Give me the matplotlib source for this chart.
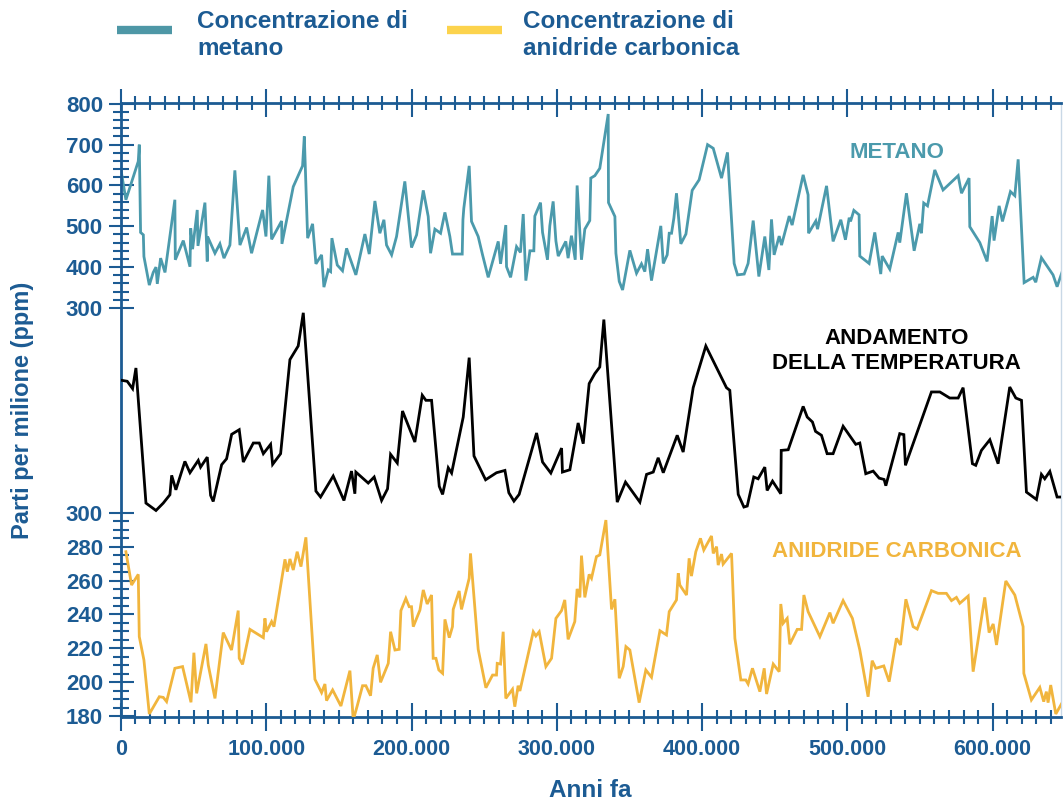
import matplotlib
matplotlib.use("Agg")
import matplotlib.pyplot as plt
from matplotlib.lines import Line2D
from matplotlib.ticker import FixedLocator, MultipleLocator

# migliaia di anni fa
ch4_years = [0, 3.4, 11.9, 12.6, 13.5, 15.4, 15.8, 19.5, 22.2, 24.1, 25.0, 27.3, 30.3, 37.1, 37.4,
             42.9, 47.5, 48.0, 49.3, 52.5, 53.0, 57.8, 59.4, 59.6, 64.7, 68.1, 70.9, 75.0, 78.4,
             81.9, 86.5, 89.9, 97.5, 99.8, 101.8, 103.7, 110.6, 110.8, 118.6, 125.0, 126.2, 128.5,
             131.9, 134.2, 138.1, 139.7, 142.7, 144.3, 145.2, 148.9, 152.5, 155.3, 161.7, 167.9,
             170.9, 174.8, 178.2, 181.0, 182.8, 186.3, 189.7, 195.4, 200.0, 203.5, 208.1, 211.5,
             213.1, 216.1, 220.0, 223.0, 226.4, 228.2, 234.9, 235.4, 236.0, 239.7, 241.3, 245.9,
             248.9, 252.8, 259.7, 261.3, 264.9, 265.4, 268.2, 272.3, 275.0, 276.9, 278.7, 281.5,
             284.2, 284.9, 288.8, 290.2, 293.6, 295.2, 297.5, 299.4, 301.0, 306.2, 307.8, 310.1,
             312.7, 314.0, 317.0, 319.3, 322.7, 323.4, 326.2, 329.6, 335.4, 335.6, 340.0, 340.7,
             343.0, 345.3, 350.3, 354.9, 358.3, 360.6, 362.5, 365.2, 371.6, 373.3, 376.0, 377.4,
             379.0, 380.6, 382.4, 385.4, 388.9, 393.2, 398.0, 403.8, 407.7, 413.4, 417.5, 422.1,
             424.4, 429.0, 431.7, 435.2, 439.1, 443.2, 446.0, 447.8, 449.6, 453.1, 454.7, 460.0,
             462.0, 469.6, 473.0, 473.3, 478.3, 479.5, 485.7, 490.2, 495.5, 498.7, 501.3, 502.2,
             504.5, 508.1, 508.6, 515.0, 518.9, 523.0, 524.0, 529.2, 535.0, 536.1, 540.7, 546.0,
             549.9, 551.0, 552.6, 555.2, 560.2, 565.9, 576.3, 578.6, 583.8, 584.3, 591.2, 596.2,
             599.7, 601.0, 604.5, 606.8, 612.3, 615.3, 617.6, 621.7, 627.9, 629.7, 633.6, 641.6,
             644.4, 648.3]
ch4_ppm = [638, 565, 659, 700, 485, 479, 426, 356, 387, 400, 359, 422, 387, 565, 418,
           465, 401, 495, 444, 540, 452, 558, 414, 475, 434, 457, 422, 454, 637,
           454, 497, 434, 540, 475, 624, 468, 513, 457, 597, 648, 720, 471,
           506, 408, 430, 351, 393, 389, 471, 405, 391, 446, 381, 481,
           432, 562, 483, 516, 454, 430, 475, 610, 448, 479, 588, 524,
           434, 493, 483, 534, 475, 432, 432, 516, 544, 648, 512, 475,
           430, 375, 463, 408, 503, 401, 375, 450, 436, 530, 367, 440,
           440, 525, 558, 485, 418, 501, 561, 464, 427, 463, 422, 477,
           418, 600, 418, 493, 514, 618, 624, 642, 775, 558, 524, 434,
           365, 344, 441, 385, 408, 389, 444, 367, 501, 409, 430, 483,
           483, 520, 581, 457, 481, 588, 614, 700, 691, 618, 681, 409,
           381, 383, 409, 514, 377, 475, 393, 517, 430, 476, 454, 525,
           503, 626, 577, 483, 513, 493, 599, 463, 516, 467, 521, 512,
           539, 528, 427, 409, 485, 383, 427, 395, 485, 460, 581, 440,
           506, 483, 557, 550, 638, 589, 624, 581, 618, 499, 460, 414,
           525, 465, 550, 512, 585, 575, 664, 362, 375, 363, 423, 381,
           352, 393]

temp_years = [0.4, 4.3, 8.0, 10.3, 17.2, 24.1, 29.1, 33.7, 34.9, 37.8, 44.0, 47.5, 53.2, 54.8,
              59.4, 61.7, 63.5, 69.3, 72.7, 76.2, 81.4, 84.2, 91.1, 95.2, 98.0, 103.0, 104.4,
              109.9, 116.3, 122.0, 125.5, 134.2, 137.4, 146.1, 153.5, 158.7, 161.0, 161.7, 170.2,
              174.3, 179.4, 183.5, 185.6, 190.2, 193.8, 202.3, 207.4, 209.9, 213.8, 219.1, 221.4,
              225.3, 227.6, 235.6, 239.7, 243.0, 251.0, 258.5, 264.3, 267.0, 270.5, 274.1, 286.1,
              290.2, 295.9, 303.3, 303.9, 309.0, 314.7, 318.2, 322.3, 326.2, 329.6, 332.4, 341.6,
              347.3, 357.2, 361.8, 366.4, 369.8, 373.3, 382.9, 387.0, 393.9, 402.6, 416.8, 419.1,
              424.9, 428.8, 431.1, 435.6, 438.6, 443.2, 444.8, 448.5, 454.2, 454.5, 459.3, 469.6,
              472.4, 476.0, 478.1, 482.2, 486.1, 490.2, 497.1, 505.8, 508.6, 512.7, 517.8, 521.9,
              525.3, 526.5, 536.1, 538.9, 540.0, 557.9, 563.7, 570.5, 576.3, 579.7, 586.1, 588.4,
              592.3, 598.1, 603.8, 611.8, 616.0, 619.9, 623.3, 630.2, 633.6, 635.9, 639.4, 644.4,
              648.3]
# scarto di temperatura (gradi C, stimato)
temp_anom = [-1.09, -1.15, -1.60, -0.34, -8.57, -9.02, -8.57, -8.06, -6.88, -7.76, -6.03, -6.72, -5.97, -6.38,
             -5.77, -8.10, -8.47, -6.23, -5.87, -4.38, -4.10, -6.07, -4.91, -4.91, -5.56, -4.99, -6.21,
             -5.56, 0.17, 1.00, 3.02, -7.84, -8.20, -6.92, -8.41, -6.62, -8.00, -6.68, -7.35,
             -6.98, -8.41, -7.70, -5.60, -6.13, -2.96, -4.85, -2.00, -2.31, -2.31, -7.55, -8.04,
             -6.42, -6.74, -3.33, 0.29, -5.70, -7.15, -6.72, -6.58, -7.94, -8.45, -8.04, -4.30,
             -6.07, -6.74, -5.22, -6.68, -6.54, -3.69, -4.95, -1.29, -0.68, -0.28, 2.61, -8.51,
             -7.29, -8.51, -6.82, -6.68, -5.81, -6.72, -4.44, -5.46, -1.54, 1.00, -1.54, -1.70,
             -8.04, -8.81, -8.75, -6.98, -7.09, -6.38, -7.80, -7.23, -8.00, -5.36, -5.32, -2.68,
             -3.33, -3.63, -4.20, -4.44, -5.56, -5.56, -3.89, -4.99, -4.91, -6.78, -6.62, -7.05,
             -7.13, -7.51, -4.34, -4.40, -6.27, -1.80, -1.80, -2.17, -2.17, -1.54, -6.17, -6.27,
             -5.36, -4.71, -6.17, -1.50, -2.17, -2.31, -7.90, -8.35, -6.82, -7.09, -6.64, -8.20,
             -8.20]

co2_years = [3.4, 7.3, 11.9, 12.6, 15.8, 19.5, 26.4, 29.1, 31.4, 37.1, 42.4, 48.2, 50.2, 52.1,
             58.5, 60.1, 64.7, 70.4, 76.1, 80.7, 81.4, 83.7, 88.8, 98.0, 99.1, 100.2, 103.7, 105.3,
             112.9, 114.5, 116.3, 118.6, 121.3, 123.9, 127.3, 133.5, 138.1, 140.4, 141.5, 145.7,
             151.4, 157.6, 159.9, 162.6, 166.3, 168.6, 171.8, 173.6, 176.4, 178.7, 184.0, 185.6,
             188.6, 191.5, 192.7, 196.1, 198.4, 200.0, 201.2, 205.8, 208.1, 210.8, 213.8, 214.9,
             216.8, 218.8, 221.4, 223.0, 226.0, 228.2, 228.7, 232.8, 234.4, 239.7, 240.6, 245.9,
             251.2, 255.8, 258.5, 259.0, 261.3, 263.1, 264.9, 269.5, 271.1, 273.4, 274.6, 283.8,
             285.6, 287.9, 292.5, 296.4, 299.4, 303.3, 305.5, 307.8, 312.4, 314.0, 315.9, 317.0,
             319.3, 322.3, 323.9, 327.3, 329.6, 333.8, 337.7, 340.0, 343.0, 345.7, 347.6, 350.3,
             356.7, 361.3, 365.2, 371.0, 375.5, 377.4, 382.4, 383.6, 384.7, 389.3, 391.1, 392.7,
             395.7, 398.9, 401.2, 406.5, 407.7, 410.0, 411.1, 413.4, 414.5, 420.3, 422.6, 426.7,
             430.1, 431.7, 434.7, 439.8, 442.8, 444.4, 449.0, 453.1, 454.2, 455.8, 458.6, 460.4,
             465.5, 468.5, 470.1, 473.0, 481.1, 488.0, 490.2, 497.1, 503.5, 508.6, 514.3, 517.1,
             519.6, 525.1, 528.8, 533.8, 536.6, 540.3, 545.3, 548.1, 557.9, 562.5, 568.2, 571.7,
             575.1, 577.4, 583.2, 586.6, 594.6, 597.6, 600.4, 602.7, 609.1, 615.3, 621.0, 621.5,
             626.7, 632.5, 635.2, 637.0, 638.2, 640.0, 643.5, 648.3]
co2_ppm = [277.1, 257.4, 263.7, 226.9, 213.1, 181.2, 191.4, 191.0, 188.5, 208.2, 209.2, 188.1, 217.4, 193.4,
           222.6, 210.1, 190.4, 229.3, 219.0, 242.3, 214.1, 210.5, 231.2, 226.3, 237.7, 229.8, 235.8, 232.8,
           272.6, 265.3, 272.8, 266.3, 277.1, 268.3, 285.6, 201.7, 193.8, 198.9, 189.1, 195.4,
           185.9, 206.8, 177.6, 185.9, 197.9, 197.9, 192.0, 208.2, 216.1, 199.9, 211.1, 229.8,
           219.0, 219.4, 242.3, 249.5, 244.6, 244.6, 232.8, 242.6, 254.5, 246.2, 251.5, 214.1,
           214.1, 207.2, 205.2, 237.1, 226.3, 232.8, 243.0, 253.9, 243.0, 261.4, 276.1, 219.4,
           196.7, 204.2, 204.2, 211.1, 210.7, 229.8, 190.4, 195.8, 185.5, 197.9, 194.8, 229.8,
           227.3, 229.8, 209.2, 214.1, 237.7, 242.3, 248.6, 225.3, 235.8, 255.1, 250.1, 274.8,
           250.1, 263.7, 261.4, 274.2, 275.2, 295.8, 243.0, 249.0, 202.3, 209.2, 221.0, 219.0,
           187.9, 207.2, 202.9, 230.4, 227.9, 241.7, 248.6, 264.3, 257.4, 251.5, 273.2, 262.7,
           277.1, 285.0, 278.1, 286.4, 276.1, 280.1, 269.2, 275.7, 269.8, 276.1, 225.9, 201.3,
           201.3, 198.9, 208.2, 194.4, 208.2, 193.0, 210.7, 206.2, 246.2, 234.8, 237.7, 222.4,
           231.2, 231.2, 251.5, 241.7, 226.9, 241.1, 234.8, 248.2, 237.7, 219.0, 191.4, 212.7,
           208.2, 209.6, 200.3, 225.9, 222.0, 249.0, 232.8, 231.4, 254.1, 252.5, 252.5, 248.2,
           250.1, 246.6, 250.9, 206.2, 250.1, 229.3, 234.4, 222.0, 259.8, 251.5, 232.8, 205.2,
           189.5, 196.9, 188.5, 194.4, 187.9, 198.3, 181.2, 188.5]

x_ticks = [0, 100, 200, 300, 400, 500, 600]
x_labels = ["0", "100.000", "200.000", "300.000", "400.000", "500.000", "600.000"]
ch4_ticks = [300, 400, 500, 600, 700, 800]
co2_ticks = [180, 200, 220, 240, 260, 280, 300]

blue = "#1c5b93"
teal = "#4b9aac"
gold = "#f1b53d"
font = ["Liberation Sans", "DejaVu Sans"]

fig = plt.figure(figsize=(10.63, 8.06), dpi=100)
ax = fig.add_axes([0.1138, 0.1104, 0.8842, 0.7618])
ax2 = ax.twinx()
ax3 = ax.twinx()

ax.plot(ch4_years, ch4_ppm, color=teal, lw=2.0, solid_joinstyle="miter")
ax3.plot(temp_years, temp_anom, color="black", lw=2.0, solid_joinstyle="miter")
ax2.plot(co2_years, co2_ppm, color=gold, lw=2.0, solid_joinstyle="miter")

ax.set_xlim(0, 647)
ax.set_ylim(-702, 802)
ax2.set_ylim(179.4, 542.3)
ax3.set_ylim(-21.6, 15.8)

for a in (ax, ax2, ax3):
    for s in a.spines.values():
        s.set_visible(False)
for side in ("left", "top", "bottom"):
    ax.spines[side].set_visible(True)
    ax.spines[side].set_color(blue)
    ax.spines[side].set_linewidth(2)
ax.spines["right"].set_visible(True)
ax.spines["right"].set_color("#c9d8e6")
ax.spines["right"].set_linewidth(1)

# asse x
ax.set_xticks(x_ticks)
ax.set_xticklabels(x_labels)
ax.xaxis.set_minor_locator(MultipleLocator(10))
ax.tick_params(axis="x", which="both", top=True, bottom=True, direction="inout", color=blue, width=1.5)
ax.tick_params(axis="x", which="major", length=20, pad=6)
ax.tick_params(axis="x", which="minor", length=10)

# metano
ax.set_yticks(ch4_ticks)
ax.yaxis.set_minor_locator(FixedLocator(list(range(300, 801, 20))))
ax.tick_params(axis="y", which="both", direction="inout", color=blue, width=1.5)
ax.tick_params(axis="y", which="major", length=18, pad=4)
ax.tick_params(axis="y", which="minor", length=11)

# anidride carbonica, scala a sinistra
ax2.yaxis.set_ticks_position("left")
ax2.yaxis.set_label_position("left")
ax2.set_yticks(co2_ticks)
ax2.yaxis.set_minor_locator(FixedLocator(list(range(180, 301, 5))))
ax2.tick_params(axis="y", which="both", direction="inout", color=blue, width=1.5)
ax2.tick_params(axis="y", which="major", length=18, pad=4)
ax2.tick_params(axis="y", which="minor", length=11)

ax3.set_yticks([])

for lab in ax.get_yticklabels() + ax2.get_yticklabels():
    lab.set_family(font)
    lab.set_fontweight("bold")
    lab.set_fontsize(16)
    lab.set_color(blue)
for lab in ax.get_xticklabels():
    lab.set_family(font)
    lab.set_fontweight("bold")
    lab.set_fontsize(15.5)
    lab.set_color(blue)

ax.text(0.8255, 0.92, "METANO", transform=ax.transAxes, ha="center", va="center",
        family=font, fontweight="bold", fontsize=16, color=teal)
ax.text(0.8255, 0.596, "ANDAMENTO\nDELLA TEMPERATURA", transform=ax.transAxes, ha="center",
        va="center", family=font, fontweight="bold", fontsize=16, color="black", linespacing=1.3)
ax.text(0.8255, 0.269, "ANIDRIDE CARBONICA", transform=ax.transAxes, ha="center", va="center",
        family=font, fontweight="bold", fontsize=16, color=gold)

fig.text(0.0207, 0.491, "Parti per milione (ppm)", rotation=90, ha="center", va="center",
         family=font, fontweight="bold", fontsize=17, color=blue)
fig.text(0.5555, 0.0198, "Anni fa", ha="center", va="center",
         family=font, fontweight="bold", fontsize=17.5, color=blue)

# legenda disegnata a mano
legend_items = [("#4e97a6", "Concentrazione di\nmetano", 117, 197),
                ("#fcd34d", "Concentrazione di\nanidride carbonica", 447, 523)]
W, H = 1063, 806
for col, txt, x0, xt in legend_items:
    fig.add_artist(Line2D([x0 / W, (x0 + 55) / W], [1 - 30 / H, 1 - 30 / H], color=col, lw=6,
                          solid_capstyle="butt", transform=fig.transFigure))
    fig.text(xt / W, 1 - 35 / H, txt, ha="left", va="center", family=font, fontweight="bold",
             fontsize=17.5, color=blue, linespacing=1.22)

fig.savefig("out.png", dpi=100)
